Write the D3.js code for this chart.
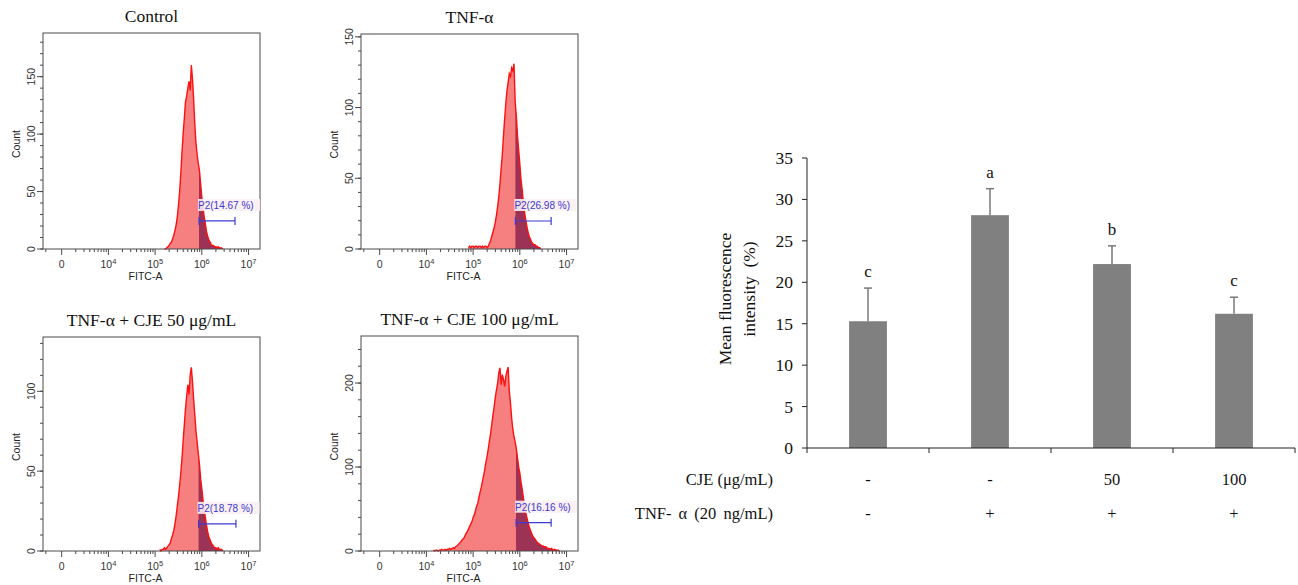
<!DOCTYPE html>
<html>
<head>
<meta charset="utf-8">
<script src="https://cdn.jsdelivr.net/npm/d3@7"></script>
<style>
  body { margin: 0; background: #fff; }
  svg { display: block; }
</style>
</head>
<body>
<svg id="chart" width="1298" height="585"></svg>
<script>
// ---- flow cytometry histograms (counts per 0.025 log-decade bin) ----
const panelTitles = ["Control", "TNF-α", "TNF-α + CJE 50 μg/mL", "TNF-α + CJE 100 μg/mL"];
const gateLabels = ["P2(14.67 %)", "P2(26.98 %)", "P2(18.78 %)", "P2(16.16 %)"];
const binStep = 0.025;
const histStart = [5.2, 4.9, 5.1, 4.15];

const countsControl = [0, 0, 1, 2, 3, 5, 6, 9, 12, 16, 21, 28, 38, 50, 66, 84, 100, 114, 128, 133,
  140, 146, 138, 160, 148, 130, 108, 92, 82, 74, 68, 56, 45, 36, 28, 22, 15, 11, 8, 6,
  4, 3, 3, 2, 2, 1, 2, 1, 1, 1, 0];
const countsTnf = [1, 2, 1, 2, 2, 1, 2, 2, 1, 2, 2, 1, 2, 1, 2, 2, 1, 2, 4, 6,
  9, 12, 15, 19, 24, 30, 37, 46, 57, 67, 80, 92, 103, 112, 118, 124, 122, 128, 126, 131,
  104, 94, 80, 70, 60, 49, 42, 33, 26, 21, 16, 12, 9, 7, 5, 4, 3, 3, 2, 2, 1, 1, 0];
const countsCje50 = [1, 0, 1, 1, 2, 1, 2, 3, 4, 5, 8, 10, 13, 17, 22, 28, 34, 41, 49, 58,
  69, 79, 89, 97, 104, 98, 110, 115, 106, 95, 85, 75, 68, 61, 54, 45, 39, 32, 26, 21,
  16, 12, 9, 7, 5, 4, 3, 2, 2, 1, 2, 1, 1, 1, 0];
const countsCje100 = [1, 0, 1, 1, 0, 1, 1, 2, 1, 1, 2, 1, 2, 2, 3, 2, 3, 4, 3, 5,
  6, 7, 9, 10, 12, 14, 15, 18, 21, 23, 26, 29, 32, 35, 40, 43, 48, 53, 57, 64,
  70, 76, 83, 90, 97, 106, 113, 122, 131, 140, 151, 162, 172, 183, 192, 200, 212, 218, 198, 210,
  204, 196, 208, 214, 219, 190, 176, 158, 145, 136, 130, 122, 111, 100, 93, 82, 74, 64, 55, 46,
  40, 34, 29, 25, 21, 18, 16, 14, 12, 10, 9, 8, 7, 6, 6, 5, 5, 4, 3, 3,
  2, 3, 2, 1, 2, 1, 1, 1, 0];
const histCounts = [countsControl, countsTnf, countsCje50, countsCje100];

const countMax = [188, 152, 134, 256];
const countMajor = [50, 50, 50, 100];
const countMinor = [10, 10, 10, 20];
const gateFrom = [5.94, 5.905, 5.93, 5.92];
const gateTo = [6.71, 6.67, 6.73, 6.67];
const gateCount = [24.4, 19.8, 17, 33.7];

// x axis is drawn in log10 units, "0" sits where 10^3 would be
const fitcTicks = [3, 4, 5, 6, 7];
const fitcExp = ["", "4", "5", "6", "7"];

// ---- bar chart ----
const groups = ["G1", "G2", "G3", "G4"];
const meanValues = [15.3, 28.1, 22.2, 16.2];
const errValues = [4.0, 3.2, 2.2, 2.0];
const sigLetters = ["c", "a", "b", "c"];
const cjeRow = ["-", "-", "50", "100"];
const tnfRow = ["-", "+", "+", "+"];
const barTicks = [0, 5, 10, 15, 20, 25, 30, 35];

const svg = d3.select("#chart");
const sans = "'Liberation Sans', Arial, sans-serif";
const serif = "'Liberation Serif', 'Times New Roman', serif";

// frame boxes of the four histograms
const frames = [
  { x0: 43, x1: 260, y0: 33, y1: 249 },
  { x0: 361, x1: 578, y0: 34, y1: 249 },
  { x0: 43, x1: 260, y0: 337, y1: 551 },
  { x0: 361, x1: 578, y0: 336, y1: 551 },
];

function drawHistogram(i) {
  const f = frames[i];
  const g = svg.append("g");
  const x = d3.scaleLinear().domain([2.6, 7.245]).range([f.x0, f.x1]);
  const y = d3.scaleLinear().domain([0, countMax[i]]).range([f.y1, f.y0]);

  const pts = histCounts[i].map((c, k) => [histStart[i] + k * binStep, c]);

  const area = d3.area()
    .x((d) => x(d[0]))
    .y0(y(0))
    .y1((d) => y(d[1]));
  const line = d3.line()
    .x((d) => x(d[0]))
    .y((d) => y(d[1]));

  const clipId = "gate" + i;
  g.append("clipPath")
    .attr("id", clipId)
    .append("rect")
    .attr("x", x(gateFrom[i]))
    .attr("y", f.y0)
    .attr("width", f.x1 - x(gateFrom[i]))
    .attr("height", f.y1 - f.y0);

  g.append("path").datum(pts).attr("d", area).attr("fill", "#f67f7f");
  g.append("path").datum(pts).attr("d", area)
    .attr("fill", "#9c3356")
    .attr("clip-path", `url(#${clipId})`);
  g.append("path").datum(pts).attr("d", line)
    .attr("fill", "none")
    .attr("stroke", "#ff1010")
    .attr("stroke-width", 1.4);

  // frame
  g.append("rect")
    .attr("x", f.x0).attr("y", f.y0)
    .attr("width", f.x1 - f.x0).attr("height", f.y1 - f.y0)
    .attr("fill", "none").attr("stroke", "#4a4a4a").attr("stroke-width", 1);

  // y ticks
  const minorY = d3.range(0, countMax[i] + 0.1, countMinor[i]);
  g.selectAll(".ymin").data(minorY).join("line")
    .attr("x1", f.x0).attr("x2", f.x0 - 3)
    .attr("y1", (d) => y(d)).attr("y2", (d) => y(d))
    .attr("stroke", "#4a4a4a");
  const majorY = d3.range(0, countMax[i] + 0.1, countMajor[i]);
  g.selectAll(".ymaj").data(majorY).join("line")
    .attr("x1", f.x0).attr("x2", f.x0 - 6)
    .attr("y1", (d) => y(d)).attr("y2", (d) => y(d))
    .attr("stroke", "#4a4a4a");
  g.selectAll(".ylab").data(majorY).join("text")
    .attr("transform", (d) => `translate(${f.x0 - 8.5},${y(d)}) rotate(-90)`)
    .attr("text-anchor", "middle")
    .attr("font-family", sans).attr("font-size", 10.5).attr("fill", "#333")
    .text((d) => d);
  g.append("text")
    .attr("transform", `translate(${f.x0 - 23.5},${(f.y0 + f.y1) / 2 + 3}) rotate(-90)`)
    .attr("text-anchor", "middle")
    .attr("font-family", sans).attr("font-size", 10.5).attr("fill", "#222")
    .text("Count");

  // x ticks: log minors between decades, a few before 0
  const minorX = [2.66];
  for (let dec = 3; dec < 7; dec++) {
    for (let m = 2; m <= 9; m++) minorX.push(dec + Math.log10(m));
  }
  g.selectAll(".xmin").data(minorX).join("line")
    .attr("x1", (d) => x(d)).attr("x2", (d) => x(d))
    .attr("y1", f.y1).attr("y2", f.y1 + 3)
    .attr("stroke", "#4a4a4a");
  g.selectAll(".xmaj").data(fitcTicks).join("line")
    .attr("x1", (d) => x(d)).attr("x2", (d) => x(d))
    .attr("y1", f.y1).attr("y2", f.y1 + 6)
    .attr("stroke", "#4a4a4a");
  const xl = g.selectAll(".xlab").data(fitcTicks).join("text")
    .attr("x", (d) => x(d))
    .attr("y", f.y1 + 19)
    .attr("text-anchor", "middle")
    .attr("font-family", sans).attr("font-size", 10.5).attr("fill", "#333");
  xl.each(function (d, k) {
    const t = d3.select(this);
    if (fitcExp[k] === "") {
      t.text("0");
    } else {
      t.append("tspan").text("10");
      t.append("tspan").attr("dy", -4).attr("font-size", 7.5).text(fitcExp[k]);
    }
  });
  g.append("text")
    .attr("x", (f.x0 + f.x1) / 2 - 6)
    .attr("y", f.y1 + 31)
    .attr("text-anchor", "middle")
    .attr("font-family", sans).attr("font-size", 10.5).attr("fill", "#222")
    .text("FITC-A");

  // gate marker + label
  const gx0 = x(gateFrom[i]), gx1 = x(gateTo[i]), gy = y(gateCount[i]);
  const gate = g.append("g").attr("stroke", "#3b3bd4").attr("stroke-width", 1.2);
  gate.append("line").attr("x1", gx0).attr("x2", gx1).attr("y1", gy).attr("y2", gy);
  gate.append("line").attr("x1", gx0).attr("x2", gx0).attr("y1", gy - 4).attr("y2", gy + 4);
  gate.append("line").attr("x1", gx1).attr("x2", gx1).attr("y1", gy - 4).attr("y2", gy + 4);
  g.append("rect")
    .attr("x", gx0 - 1).attr("y", gy - 22)
    .attr("width", 62).attr("height", 12)
    .attr("fill", "#fbeef2").attr("opacity", 0.9);
  g.append("text")
    .attr("x", gx0 - 1).attr("y", gy - 12)
    .attr("font-family", sans).attr("font-size", 10).attr("fill", "#3a3ad0")
    .text(gateLabels[i]);

  // title
  svg.append("text")
    .attr("x", (f.x0 + f.x1) / 2)
    .attr("y", f.y0 - 11)
    .attr("text-anchor", "middle")
    .attr("font-family", serif).attr("font-size", 17.5).attr("fill", "#111")
    .text(panelTitles[i]);
}

for (let i = 0; i < 4; i++) drawHistogram(i);

// ---------------- bar chart ----------------
function drawBars() {
  const left = 807, right = 1295, top = 158, bottom = 448;
  const g = svg.append("g");
  const x = d3.scaleBand().domain(groups).range([left, right])
    .paddingInner(0.69).paddingOuter(0.345);
  const y = d3.scaleLinear().domain([0, 35]).range([bottom, top]);

  g.selectAll(".bar").data(meanValues).join("rect")
    .attr("x", (d, k) => x(groups[k]))
    .attr("y", (d) => y(d))
    .attr("width", x.bandwidth())
    .attr("height", (d) => bottom - y(d))
    .attr("fill", "#808080");

  // error bars (upper half only)
  const eb = g.append("g").attr("stroke", "#7a7a7a").attr("stroke-width", 1.5);
  meanValues.forEach((m, k) => {
    const cx = x(groups[k]) + x.bandwidth() / 2;
    eb.append("line").attr("x1", cx).attr("x2", cx)
      .attr("y1", y(m)).attr("y2", y(m + errValues[k]));
    eb.append("line").attr("x1", cx - 4).attr("x2", cx + 4)
      .attr("y1", y(m + errValues[k])).attr("y2", y(m + errValues[k]));
    g.append("text")
      .attr("x", cx).attr("y", y(m + errValues[k]) - 11)
      .attr("text-anchor", "middle")
      .attr("font-family", serif).attr("font-size", 17).attr("fill", "#111")
      .text(sigLetters[k]);
  });

  // axes
  g.append("line").attr("x1", left).attr("x2", left).attr("y1", top).attr("y2", bottom + 5)
    .attr("stroke", "#222");
  g.append("line").attr("x1", left).attr("x2", right).attr("y1", bottom).attr("y2", bottom)
    .attr("stroke", "#222");
  g.selectAll(".yt").data(barTicks).join("line")
    .attr("x1", left - 5).attr("x2", left)
    .attr("y1", (d) => y(d)).attr("y2", (d) => y(d))
    .attr("stroke", "#222");
  g.selectAll(".yl").data(barTicks).join("text")
    .attr("x", left - 14).attr("y", (d) => y(d) + 6)
    .attr("text-anchor", "end")
    .attr("font-family", serif).attr("font-size", 17.5).attr("fill", "#111")
    .text((d) => d);
  const bounds = groups.map((d, k) => left + (k + 1) * x.step());
  g.selectAll(".xt").data(bounds).join("line")
    .attr("x1", (d) => d).attr("x2", (d) => d)
    .attr("y1", bottom).attr("y2", bottom + 5)
    .attr("stroke", "#222");

  // y label (two lines)
  g.append("text")
    .attr("transform", "translate(731,299) rotate(-90)")
    .attr("text-anchor", "middle")
    .attr("font-family", serif).attr("font-size", 17.5).attr("fill", "#111")
    .text("Mean fluorescence");
  g.append("text")
    .attr("transform", "translate(755,289) rotate(-90)")
    .attr("text-anchor", "middle")
    .attr("font-family", serif).attr("font-size", 17.5).attr("fill", "#111")
    .style("white-space", "pre")
    .text("intensity  (%)");

  // treatment table under the axis
  const rows = [
    { label: "CJE (μg/mL)", vals: cjeRow, yy: 485, ws: 0 },
    { label: "TNF- α (20 ng/mL)", vals: tnfRow, yy: 519, ws: 3 },
  ];
  rows.forEach((r) => {
    g.append("text")
      .attr("x", 773).attr("y", r.yy)
      .attr("text-anchor", "end")
      .attr("font-family", serif).attr("font-size", 16.5).attr("fill", "#111")
      .attr("word-spacing", r.ws)
      .text(r.label);
    g.selectAll(null).data(r.vals).join("text")
      .attr("x", (d, k) => x(groups[k]) + x.bandwidth() / 2)
      .attr("y", r.yy)
      .attr("text-anchor", "middle")
      .attr("font-family", serif).attr("font-size", 16.5).attr("fill", "#111")
      .text((d) => d);
  });
}

drawBars();
</script>
</body>
</html>
